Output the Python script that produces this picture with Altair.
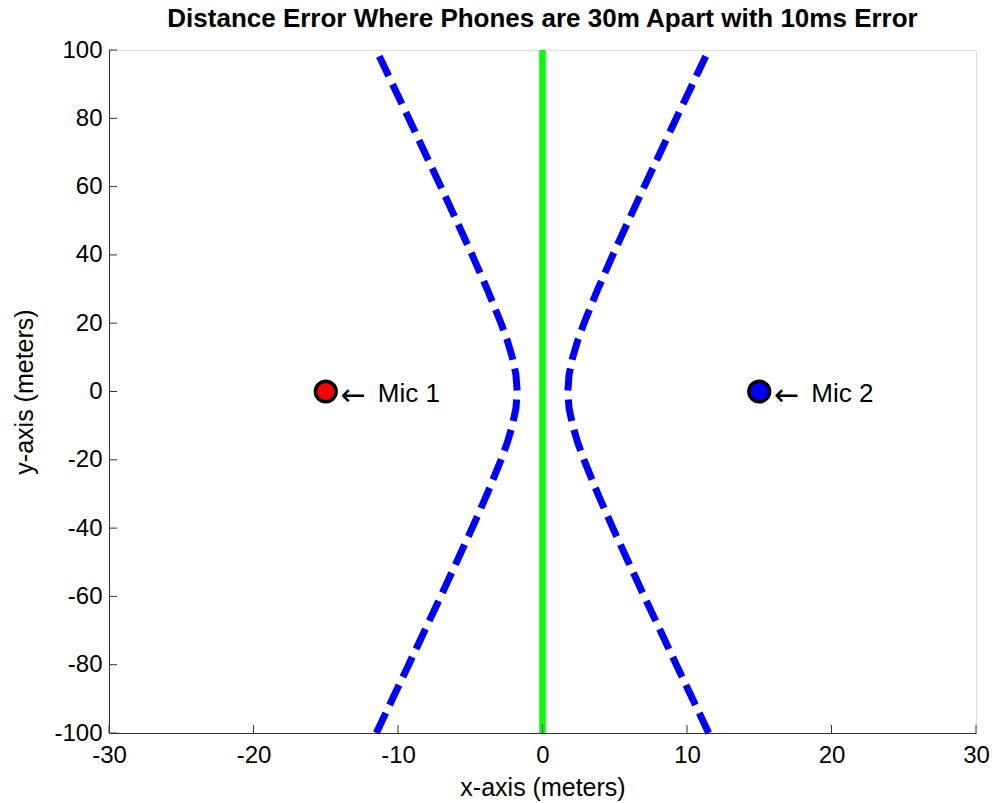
import altair as alt
import pandas as pd

# ---- data ----
x_ticks = [-30, -20, -10, 0, 10, 20, 30]
y_ticks = [-100, -80, -60, -40, -20, 0, 20, 40, 60, 80, 100]

curve_y = [-100, -90, -80, -70, -60, -50, -40, -30, -20, -15, -10, -5, 0,
           5, 10, 15, 20, 30, 40, 50, 60, 70, 80, 90, 100]
curve_x_right = [11.5, 10.38, 9.26, 8.15, 7.04, 5.95, 4.87, 3.83, 2.87, 2.44, 2.09, 1.84, 1.75,
                 1.84, 2.09, 2.44, 2.87, 3.83, 4.87, 5.95, 7.04, 8.15, 9.26, 10.38, 11.5]
curve_x_left = [-v for v in curve_x_right]

green_x = [0, 0]
green_y = [-100, 100]

mic_x = [-15, 15]
mic_y = [0, 0]
mic_fill = ["#ff0000", "#0000ff"]
mic_label = ["Mic 1", "Mic 2"]

TITLE = "Distance Error Where Phones are 30m Apart with 10ms Error"
FONT = "Liberation Sans"

W, H = 867, 683

curve_df = pd.DataFrame({
    "x": curve_x_left + curve_x_right,
    "y": curve_y + curve_y,
    "branch": ["left"] * len(curve_y) + ["right"] * len(curve_y),
    "order": list(range(len(curve_y))) * 2,
})
green_df = pd.DataFrame({"x": green_x, "y": green_y})
mic_df = pd.DataFrame({"x": mic_x, "y": mic_y, "fill": mic_fill, "label": mic_label,
                       "arrow": ["\u2190", "\u2190"]})
xt_df = pd.DataFrame({"x": x_ticks})
yt_df = pd.DataFrame({"y": y_ticks})
title_df = pd.DataFrame({"t": [TITLE]})

xscale = alt.Scale(domain=[-30, 30], nice=False, zero=False)
yscale = alt.Scale(domain=[-100, 100], nice=False, zero=False)

x_axis = alt.Axis(
    values=x_ticks, ticks=False, tickSize=0, grid=False,
    domainColor="#333333", domainWidth=1,
    labelExpr="'' + datum.value",
    labelFont=FONT, labelFontSize=24, labelColor="black", labelPadding=10,
    labelFlush=False, labelOverlap=False,
    title="x-axis (meters)", titleFont=FONT, titleFontSize=25, titleFontWeight="normal",
    titleColor="black", titleX=W / 2, titleY=62, titleBaseline="alphabetic", titleAlign="center",
)
y_axis = alt.Axis(
    values=y_ticks, ticks=False, tickSize=0, grid=False,
    domainColor="#333333", domainWidth=1,
    labelExpr="'' + datum.value",
    labelFont=FONT, labelFontSize=24, labelColor="black", labelPadding=7,
    labelFlush=False, labelOverlap=False, labelBaseline="middle",
    title="y-axis (meters)", titleFont=FONT, titleFontSize=25, titleFontWeight="normal",
    titleColor="black", titleX=-77, titleY=H / 2, titleAngle=270,
    titleBaseline="alphabetic", titleAlign="center",
)

curves = alt.Chart(curve_df).mark_line(
    color="#0000ff", strokeWidth=7, strokeDash=[22, 9]
).encode(
    x=alt.X("x:Q", scale=xscale, axis=x_axis),
    y=alt.Y("y:Q", scale=yscale, axis=y_axis),
    detail="branch:N",
    order="order:Q",
)

green = alt.Chart(green_df).mark_line(color="#00ff00", strokeWidth=6.5).encode(
    x=alt.X("x:Q", scale=xscale),
    y=alt.Y("y:Q", scale=yscale),
)

xt = alt.Chart(xt_df).mark_rule(color="#333333", strokeWidth=1).encode(
    x=alt.X("x:Q", scale=xscale),
    y=alt.value(H), y2=alt.value(H - 8),
)
yt = alt.Chart(yt_df).mark_rule(color="#333333", strokeWidth=1).encode(
    y=alt.Y("y:Q", scale=yscale),
    x=alt.value(0), x2=alt.value(8),
)

mics = alt.Chart(mic_df).mark_point(
    shape="circle", filled=True, size=430, stroke="black", strokeWidth=3.5, opacity=1
).encode(
    x=alt.X("x:Q", scale=xscale),
    y=alt.Y("y:Q", scale=yscale),
    fill=alt.Fill("fill:N", scale=None),
)

arrows = alt.Chart(mic_df).mark_text(
    align="left", baseline="alphabetic", dx=15, dy=13, font="DejaVu Sans", fontSize=30,
    color="black"
).encode(
    x=alt.X("x:Q", scale=xscale),
    y=alt.Y("y:Q", scale=yscale),
    text="arrow:N",
)

labels = alt.Chart(mic_df).mark_text(
    align="left", baseline="alphabetic", dx=52, dy=10.5, font=FONT, fontSize=26, color="black"
).encode(
    x=alt.X("x:Q", scale=xscale),
    y=alt.Y("y:Q", scale=yscale),
    text="label:N",
)

title = alt.Chart(title_df).mark_text(
    align="center", baseline="alphabetic", font=FONT, fontSize=26, fontWeight="bold",
    color="black"
).encode(
    x=alt.value(W / 2), y=alt.value(-23), text="t:N",
)

chart = alt.layer(curves, green, xt, yt, mics, arrows, labels, title).properties(
    width=W, height=H,
    autosize=alt.AutoSizeParams(type="none"),
    padding={"left": 109, "top": 50, "right": 19, "bottom": 70},
).configure_view(stroke=None).configure(background="white")

chart.save("out.html", embed_options={"renderer": "svg", "actions": False})
